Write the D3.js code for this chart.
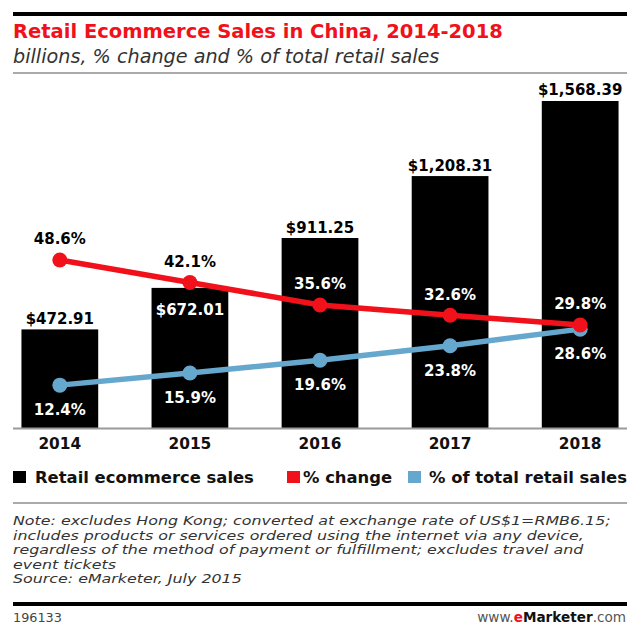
<!DOCTYPE html>
<html>
<head>
<meta charset="utf-8">
<script src="https://cdn.jsdelivr.net/npm/d3@7"></script>
<style>
  html, body { margin: 0; padding: 0; background: #fff; }
  svg { display: block; }
  text { font-family: "DejaVu Sans", Verdana, sans-serif; }
</style>
</head>
<body>
<svg id="chart" width="627" height="624"></svg>
<script>
// Retail ecommerce sales in China, 2014-2018
const years = ["2014", "2015", "2016", "2017", "2018"];
const sales = [472.91, 672.01, 911.25, 1208.31, 1568.39];       // billions USD
const pctChange = [48.6, 42.1, 35.6, 32.6, 29.8];               // % change
const pctOfRetail = [12.4, 15.9, 19.6, 23.8, 28.6];             // % of total retail sales

const title = "Retail Ecommerce Sales in China, 2014-2018";
const subtitle = "billions, % change and % of total retail sales";
const legendLabels = ["Retail ecommerce sales", "% change", "% of total retail sales"];
const noteLines = [
  "Note: excludes Hong Kong; converted at exchange rate of US$1=RMB6.15;",
  "includes products or services ordered using the internet via any device,",
  "regardless of the method of payment or fulfillment; excludes travel and",
  "event tickets",
  "Source: eMarketer, July 2015"
];
const chartId = "196133";

const RED = "#f0111a";
const BLUE = "#66a7cd";

const svg = d3.select("#chart");
const W = 627;
const left = 13;
const baseY = 428;

// header rules and titles
svg.append("rect").attr("x", left).attr("y", 12).attr("width", W - left).attr("height", 4).attr("fill", "#000");
svg.append("text").attr("x", left).attr("y", 38)
  .attr("font-size", 19.5).attr("font-weight", "bold").attr("fill", RED).text(title);
svg.append("text").attr("x", left).attr("y", 63)
  .attr("font-size", 19.2).attr("font-style", "italic").attr("fill", "#333").text(subtitle);
svg.append("rect").attr("x", left).attr("y", 72).attr("width", W - left).attr("height", 2).attr("fill", "#aaa");

// scales
const x = d3.scaleBand().domain(years).range([left, W]).paddingInner(0.41).paddingOuter(0.065);
const yBar = d3.scaleLinear().domain([0, 1600]).range([baseY, 94.4]);
const yPct = d3.scaleLinear().domain([0, 100]).range([baseY, 82.3]);
const cx = d => x(d) + x.bandwidth() / 2;

// bars
svg.append("g").selectAll("rect").data(years).join("rect")
  .attr("x", d => x(d))
  .attr("y", (d, i) => yBar(sales[i]))
  .attr("width", x.bandwidth())
  .attr("height", (d, i) => baseY - yBar(sales[i]))
  .attr("fill", "#000");

// baseline
svg.append("rect").attr("x", left).attr("y", baseY - 0.5).attr("width", W - left).attr("height", 2).attr("fill", "#9a9a9a");

// x axis labels
const xAxis = d3.axisBottom(x).tickSize(0).tickPadding(0);
const gx = svg.append("g").attr("transform", `translate(0,${baseY})`).call(xAxis);
gx.select(".domain").remove();
gx.selectAll("text")
  .attr("dy", null).attr("y", 21)
  .attr("font-size", 15.4).attr("font-weight", "bold").attr("fill", "#111")
  .style("font-family", "'DejaVu Sans', Verdana, sans-serif");

// lines
const lineGen = d3.line().x(d => cx(d[0])).y(d => yPct(d[1]));
function drawSeries(values, color) {
  const pts = years.map((y, i) => [y, values[i]]);
  svg.append("path").datum(pts).attr("d", lineGen)
    .attr("fill", "none").attr("stroke", color).attr("stroke-width", 5.5)
    .attr("stroke-linejoin", "round");
  svg.append("g").selectAll("circle").data(pts).join("circle")
    .attr("cx", d => cx(d[0])).attr("cy", d => yPct(d[1])).attr("r", 7.5).attr("fill", color);
}
drawSeries(pctOfRetail, BLUE);
drawSeries(pctChange, RED);

// value labels
const fmtMoney = v => "$" + d3.format(",.2f")(v);
const fmtPct = v => d3.format(".1f")(v) + "%";
const labels = svg.append("g").attr("font-size", 15).attr("font-weight", "bold").attr("text-anchor", "middle");

years.forEach((yr, i) => {
  const top = yBar(sales[i]);
  const redY = yPct(pctChange[i]);
  const blueY = yPct(pctOfRetail[i]);
  // sales label sits above the bar unless the % change label would collide
  const inside = Math.abs(redY - top) < 25;
  labels.append("text").attr("x", cx(yr))
    .attr("y", inside ? top + 27.5 : top - 5.5)
    .attr("fill", inside ? "#fff" : "#000")
    .text(fmtMoney(sales[i]));

  const ry = redY - 15.5;
  labels.append("text").attr("x", cx(yr)).attr("y", ry)
    .attr("fill", ry - 11 > top ? "#fff" : "#000")
    .text(fmtPct(pctChange[i]));

  const by = blueY + 30;
  labels.append("text").attr("x", cx(yr)).attr("y", by)
    .attr("fill", by - 11 > top ? "#fff" : "#000")
    .text(fmtPct(pctOfRetail[i]));
});

// legend
const legendColors = ["#000", RED, BLUE];
const legendX = [13, 287, 408];
const legendGap = [22, 16, 21];
const lg = svg.append("g");
legendLabels.forEach((t, i) => {
  lg.append("rect").attr("x", legendX[i]).attr("y", 471).attr("width", 13).attr("height", 12).attr("fill", legendColors[i]);
  lg.append("text").attr("x", legendX[i] + legendGap[i]).attr("y", 483)
    .attr("font-size", 16.4).attr("font-weight", "bold").attr("fill", "#111").text(t);
});

svg.append("rect").attr("x", left).attr("y", 502).attr("width", W - left).attr("height", 2).attr("fill", "#aaa");

// notes: a wide italic face, set tight vertically
const notes = svg.append("g")
  .attr("transform", `translate(${left},0) scale(1.27,1)`)
  .attr("font-size", 12.5).attr("font-style", "italic").attr("fill", "#333");
noteLines.forEach((t, i) => {
  notes.append("text").attr("x", 0).attr("y", 525 + i * 14.6).text(t);
});

// footer
svg.append("rect").attr("x", left).attr("y", 602).attr("width", W - left).attr("height", 4).attr("fill", "#000");
svg.append("text").attr("x", left).attr("y", 622).attr("font-size", 12.8).attr("fill", "#444").text(chartId);
const brand = svg.append("text").attr("x", 626).attr("y", 622).attr("text-anchor", "end").attr("font-size", 13.6);
brand.append("tspan").attr("fill", "#555").text("www.");
brand.append("tspan").attr("fill", RED).attr("font-weight", "bold").text("e");
brand.append("tspan").attr("fill", "#111").attr("font-weight", "bold").text("Marketer");
brand.append("tspan").attr("fill", "#555").text(".com");
</script>
</body>
</html>
